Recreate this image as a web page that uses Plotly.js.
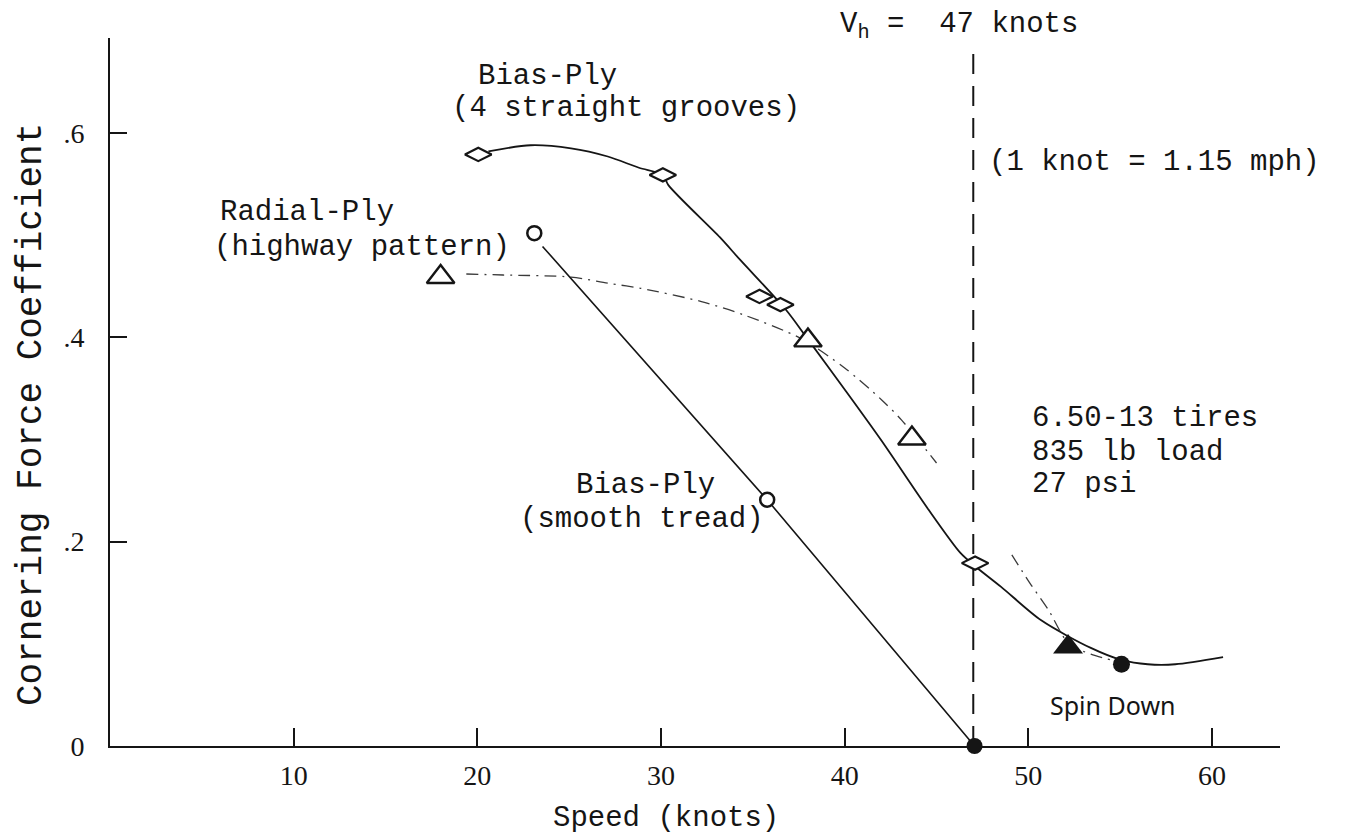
<!DOCTYPE html>
<html>
<head>
<meta charset="utf-8">
<script src="https://cdn.plot.ly/plotly-3.0.1.min.js"></script>
<style>html,body{margin:0;padding:0;background:#fff;}#chart{width:1370px;height:836px;}</style>
</head>
<body>
<div id="chart"></div>
<script>
// ---- tick labels ----
const speedTicks = [10, 20, 30, 40, 50, 60];
const coefTicks = [0, 0.2, 0.4, 0.6];
const coefTickLabels = ['0', '.2', '.4', '.6'];

// ---- Bias-Ply (4 straight grooves): measured points (open diamonds) ----
const groovedSpeed = [20.05, 30.1, 35.36, 36.5, 47.1];
const groovedCoef  = [0.579, 0.559, 0.440, 0.432, 0.179];
// faired curve through them
const groovedCurveSpeed = [20.6, 22.9, 25.1, 27.1, 28.8, 30.1, 30.4, 33.2, 34.3, 36.8, 38.0, 40.0, 42.0, 44.5, 46.3, 47.1, 48.5, 50.7, 53.4, 55.1, 56.5, 58.0, 60.6];
const groovedCurveCoef  = [0.582, 0.588, 0.585, 0.577, 0.566, 0.559, 0.549, 0.498, 0.476, 0.427, 0.398, 0.349, 0.299, 0.233, 0.189, 0.176, 0.156, 0.123, 0.096, 0.084, 0.080, 0.080, 0.087];

// ---- Radial-Ply (highway pattern): measured points (open triangles) ----
const radialSpeed = [18.0, 38.0, 43.66];
const radialCoef  = [0.459, 0.397, 0.301];
const radialCurveSpeed = [19.4, 21.4, 25.1, 27.1, 28.9, 32.2, 34.5, 37.6, 40.0, 42.0, 43.1, 45.0, null, 49.1, 50.1, 51.1, 52.2, 53.4, 55.0];
const radialCurveCoef  = [0.462, 0.461, 0.459, 0.453, 0.448, 0.435, 0.422, 0.399, 0.370, 0.339, 0.319, 0.277, null, 0.187, 0.159, 0.133, 0.100, 0.090, 0.082];

// ---- Bias-Ply (smooth tread): measured points (open circles) ----
const smoothSpeed = [23.1, 35.78];
const smoothCoef  = [0.502, 0.241];
const smoothCurveSpeed = [23.55, 35.78, 47.07];
const smoothCurveCoef  = [0.489, 0.241, 0.0];

// ---- Spin-down points (filled markers) ----
const spinSmoothSpeed = [47.07];  const spinSmoothCoef = [0.0];
const spinRadialSpeed = [52.16];  const spinRadialCoef = [0.097];
const spinGroovedSpeed = [55.07]; const spinGroovedCoef = [0.080];

// ---- hydroplaning speed reference line ----
const vhSpeed = 47;
const vhLineCoef = [0, 0.68];

// ---- pixel -> paper helpers for text placement ----
const L = 110, R = 1280, T = 38, B = 746;
const px = p => (p - L) / (R - L);
const py = p => (B - p) / (B - T);

const ink = '#151515';
const mono = 'Liberation Mono, Courier New, monospace';

const traces = [
  { x: [vhSpeed, vhSpeed], y: vhLineCoef, mode: 'lines', hoverinfo: 'skip',
    line: { color: ink, width: 2, dash: '20px,12px' }, showlegend: false },
  { x: groovedCurveSpeed, y: groovedCurveCoef, mode: 'lines',
    line: { color: ink, width: 1.8, shape: 'spline', smoothing: 0.8 }, showlegend: false },
  { x: radialCurveSpeed, y: radialCurveCoef, mode: 'lines', connectgaps: false,
    line: { color: '#3a3a3a', width: 1.3, shape: 'spline', smoothing: 0.8, dash: '12px,6px,2px,6px' }, showlegend: false },
  { x: smoothCurveSpeed, y: smoothCurveCoef, mode: 'lines',
    line: { color: ink, width: 1.6 }, showlegend: false },
  { x: groovedSpeed, y: groovedCoef, mode: 'markers', name: 'Bias-Ply (4 straight grooves)',
    marker: { symbol: 'diamond-wide', size: 19, color: '#fff', line: { color: ink, width: 2.2 } }, showlegend: false, cliponaxis: false },
  { x: radialSpeed, y: radialCoef, mode: 'markers', name: 'Radial-Ply (highway pattern)',
    marker: { symbol: 'triangle-up', size: 24, color: '#fff', line: { color: ink, width: 2.4 } }, showlegend: false, cliponaxis: false },
  { x: smoothSpeed, y: smoothCoef, mode: 'markers', name: 'Bias-Ply (smooth tread)',
    marker: { symbol: 'circle', size: 14, color: '#fff', line: { color: ink, width: 2.5 } }, showlegend: false, cliponaxis: false },
  { x: spinSmoothSpeed, y: spinSmoothCoef, mode: 'markers',
    marker: { symbol: 'circle', size: 16, color: ink }, showlegend: false, cliponaxis: false },
  { x: spinRadialSpeed, y: spinRadialCoef, mode: 'markers',
    marker: { symbol: 'triangle-up', size: 26, color: ink }, showlegend: false, cliponaxis: false },
  { x: spinGroovedSpeed, y: spinGroovedCoef, mode: 'markers',
    marker: { symbol: 'circle', size: 17, color: ink }, showlegend: false, cliponaxis: false }
];

function note(text, xPix, yPix, opts) {
  return Object.assign({
    text: text, xref: 'paper', yref: 'paper', x: px(xPix), y: py(yPix),
    xanchor: 'left', yanchor: 'middle', showarrow: false,
    font: { family: mono, size: 29, color: ink }
  }, opts || {});
}

const annotations = [
  note('V<sub>h</sub>\u00A0=\u00A0\u00A047 knots', 838, 26),
  note('(1 knot = 1.15 mph)', 987, 162),
  note('Bias-Ply', 476, 76),
  note('(4 straight grooves)', 450, 108),
  note('Radial-Ply', 218, 213),
  note('(highway pattern)', 212, 247),
  note('Bias-Ply', 574, 486),
  note('(smooth tread)', 518, 519),
  note('6.50-13 tires', 1030, 418),
  note('835 lb load', 1030, 452),
  note('27 psi', 1030, 484),
  note('Spin Down', 1112, 705, { xanchor: 'center', font: { family: 'Noto Sans, sans-serif', size: 25, color: ink } }),
  note('Cornering Force Coefficient', 31, 415, { xanchor: 'center', textangle: -90, font: { family: mono, size: 36, color: ink } }),
  note('Speed (knots)', 666, 818, { xanchor: 'center' })
];

const axisBase = {
  showline: true, linewidth: 2, linecolor: ink, mirror: false,
  ticks: 'inside', tickwidth: 2, tickcolor: ink,
  showgrid: false, zeroline: false,
  tickfont: { family: 'Liberation Serif, Times New Roman, serif', size: 28, color: ink }
};

const layout = {
  width: 1370, height: 836,
  margin: { l: L, r: 1370 - R, t: T, b: 836 - B },
  paper_bgcolor: '#fff', plot_bgcolor: '#fff',
  showlegend: false,
  xaxis: Object.assign({}, axisBase, {
    range: [0, 63.7], tickvals: speedTicks, ticktext: speedTicks.map(String),
    ticklen: 18, ticklabelstandoff: 3
  }),
  yaxis: Object.assign({}, axisBase, {
    range: [0, 0.693], tickvals: coefTicks, ticktext: coefTickLabels,
    ticklen: 17, ticklabelstandoff: 18
  }),
  annotations: annotations
};

Plotly.newPlot('chart', traces, layout, { staticPlot: true, displayModeBar: false });
</script>
</body>
</html>
